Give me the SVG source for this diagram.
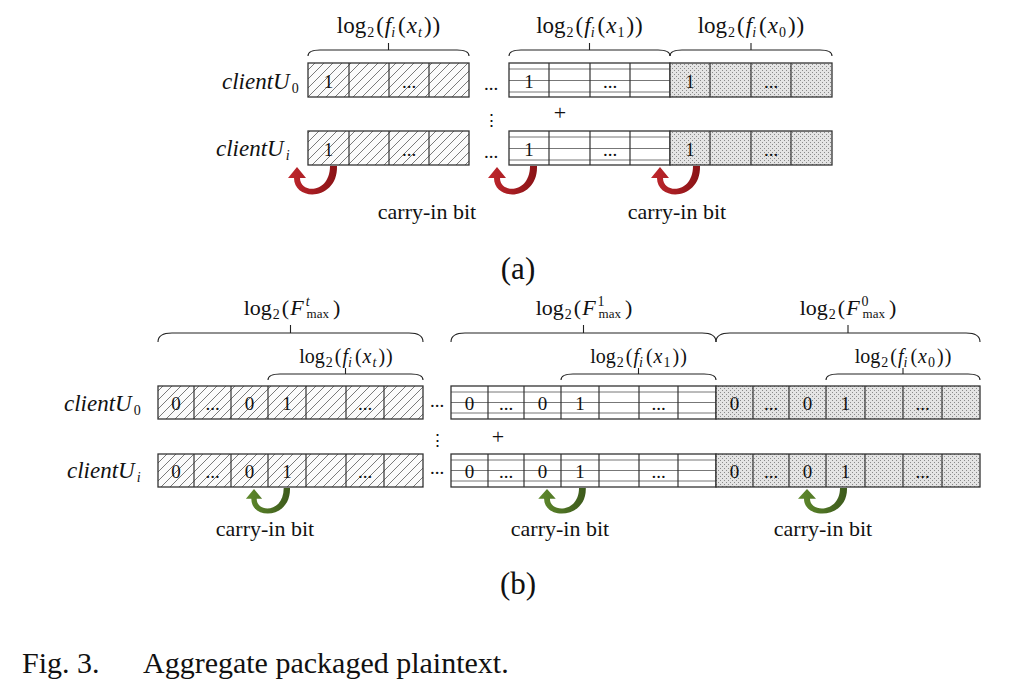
<svg xmlns="http://www.w3.org/2000/svg" xmlns:xlink="http://www.w3.org/1999/xlink" width="1024" height="690" viewBox="0 0 1024 690">
<style>
.t{font-family:"Liberation Serif","Times New Roman",serif;fill:#111}
.lbl{font-size:23px;text-anchor:middle}
.lbl2{font-size:22px;text-anchor:middle}
.lbl3{font-size:20px;text-anchor:middle}
.it{font-style:italic}
.sub{font-size:14px}
.sub2{font-size:13px}
.cell{font-size:19px;text-anchor:middle}
.cl{font-size:23px;font-style:italic}
.cap{font-size:30px}
.mid{text-anchor:middle}
.box{fill:none;stroke:#333;stroke-width:1.3}
.div{fill:none;stroke:#333;stroke-width:1.2}
.hl{fill:none;stroke:#777;stroke-width:1}
.brace{fill:none;stroke:#222;stroke-width:1.1}
</style>
<defs>
<pattern id="hatch" patternUnits="userSpaceOnUse" width="9" height="9">
<rect width="9" height="9" fill="#fbfbfb"/>
<path d="M0,9L9,0M-1,1L1,-1M8,10L10,8" stroke="#7a7a7a" stroke-width="1"/>
</pattern>
<pattern id="dots" patternUnits="userSpaceOnUse" width="4" height="4">
<rect width="4" height="4" fill="#e4e4e4"/>
<rect x="0" y="0" width="1" height="1" fill="#8a8a8a"/>
<rect x="2" y="2" width="1" height="1" fill="#8a8a8a"/>
</pattern>
<linearGradient id="red" x1="0" y1="0" x2="1" y2="0">
<stop offset="0" stop-color="#c0272d"/>
<stop offset="1" stop-color="#8a1316"/>
</linearGradient>
<linearGradient id="green" x1="0" y1="0" x2="1" y2="0">
<stop offset="0" stop-color="#5f8a2c"/>
<stop offset="1" stop-color="#3d5a1c"/>
</linearGradient>
<path id="arr" d="M40,0C41,35 -3,36 -3,12L-9,12L0,1L9,12L3,12C3,28 33,28 33,0Z"/>
</defs>
<rect width="1024" height="690" fill="#fff"/>

<!-- ===== (a) ===== -->
<g id="a-labels">
<text class="t lbl" x="388.5" y="33">log<tspan class="sub" dy="4" dx="1">2</tspan><tspan dy="-4" dx="2">(</tspan><tspan class="it" dx="1">f</tspan><tspan class="sub it" dy="4">i</tspan><tspan dy="-4" dx="3">(</tspan><tspan class="it" dx="1">x</tspan><tspan class="sub it" dy="4" dx="1">t</tspan><tspan dy="-4" dx="2">)</tspan><tspan dx="1">)</tspan></text>
<text class="t lbl" x="589.5" y="33">log<tspan class="sub" dy="4" dx="1">2</tspan><tspan dy="-4" dx="2">(</tspan><tspan class="it" dx="1">f</tspan><tspan class="sub it" dy="4">i</tspan><tspan dy="-4" dx="3">(</tspan><tspan class="it" dx="1">x</tspan><tspan class="sub" dy="4" dx="1">1</tspan><tspan dy="-4" dx="2">)</tspan><tspan dx="1">)</tspan></text>
<text class="t lbl" x="751" y="33">log<tspan class="sub" dy="4" dx="1">2</tspan><tspan dy="-4" dx="2">(</tspan><tspan class="it" dx="1">f</tspan><tspan class="sub it" dy="4">i</tspan><tspan dy="-4" dx="3">(</tspan><tspan class="it" dx="1">x</tspan><tspan class="sub" dy="4" dx="1">0</tspan><tspan dy="-4" dx="2">)</tspan><tspan dx="1">)</tspan></text>
<path class="brace" d="M308,56Q308,50 320,50L457,50Q469,50 469,56M388.5,50V43"/>
<path class="brace" d="M509,56Q509,50 521,50L658,50Q670,50 670,56M589.5,50V43"/>
<path class="brace" d="M670,56Q670,50 682,50L820,50Q832,50 832,56M751,50V43"/>
<text class="t cl" x="222" y="89">clientU<tspan class="sub" font-style="normal" dy="4" dx="2">0</tspan></text>
<text class="t cl" x="216" y="156">clientU<tspan class="sub" dy="4" dx="2">i</tspan></text>
<text class="t cell" x="491" y="90">...</text>
<text class="t cell" x="491" y="158">...</text>
<text class="t mid" x="491" y="126" font-family="DejaVu Sans" font-size="17">⋮</text>
<text class="t mid" x="560" y="120" font-size="22" fill="#000">+</text>
<text class="t" x="427" y="219" font-size="22" text-anchor="middle">carry-in bit</text>
<text class="t" x="677" y="219" font-size="22" text-anchor="middle">carry-in bit</text>
<text class="t" x="518" y="279" font-size="31" text-anchor="middle">(a)</text>
</g>

<g id="a-u0-xt">
<rect x="308" y="63" width="161" height="34" fill="url(#hatch)"/>
<path class="div" d="M349,63V97M389,63V97M429,63V97"/>
<rect class="box" x="308" y="63" width="161" height="34"/>
<text class="t cell" x="328.5" y="88">1</text><text class="t cell" x="409" y="88">...</text>
</g>
<g id="a-u0-x1">
<rect x="509" y="63" width="161" height="34" fill="#fff"/>
<path class="hl" d="M509,69H670M509,80.5H670M509,92H670"/>
<path class="div" d="M549,63V97M590,63V97M630,63V97"/>
<rect class="box" x="509" y="63" width="161" height="34"/>
<text class="t cell" x="529" y="88">1</text><text class="t cell" x="610" y="88">...</text>
</g>
<g id="a-u0-x0">
<rect x="670" y="63" width="162" height="34" fill="url(#dots)"/>
<path class="div" d="M710,63V97M751,63V97M791,63V97"/>
<rect class="box" x="670" y="63" width="162" height="34"/>
<text class="t cell" x="690" y="88">1</text><text class="t cell" x="771" y="88">...</text>
</g>
<g id="a-ui-xt">
<rect x="308" y="131" width="161" height="34" fill="url(#hatch)"/>
<path class="div" d="M349,131V165M389,131V165M429,131V165"/>
<rect class="box" x="308" y="131" width="161" height="34"/>
<text class="t cell" x="328.5" y="156">1</text><text class="t cell" x="409" y="156">...</text>
</g>
<g id="a-ui-x1">
<rect x="509" y="131" width="161" height="34" fill="#fff"/>
<path class="hl" d="M509,137H670M509,148.5H670M509,160H670"/>
<path class="div" d="M549,131V165M590,131V165M630,131V165"/>
<rect class="box" x="509" y="131" width="161" height="34"/>
<text class="t cell" x="529" y="156">1</text><text class="t cell" x="610" y="156">...</text>
</g>
<g id="a-ui-x0">
<rect x="670" y="131" width="162" height="34" fill="url(#dots)"/>
<path class="div" d="M710,131V165M751,131V165M791,131V165"/>
<rect class="box" x="670" y="131" width="162" height="34"/>
<text class="t cell" x="690" y="156">1</text><text class="t cell" x="771" y="156">...</text>
</g>

<!-- ===== (b) ===== -->
<g id="b-labels">
<text class="t lbl2" x="292" y="315">log<tspan class="sub" dy="4" dx="1">2</tspan><tspan dy="-4" dx="2">(</tspan><tspan class="it" dx="1">F</tspan><tspan class="sub it" dy="-9" dx="2">t</tspan><tspan class="sub2" dx="-3" dy="12">max</tspan><tspan dy="-3" dx="4">)</tspan></text>
<text class="t lbl2" x="584" y="315">log<tspan class="sub" dy="4" dx="1">2</tspan><tspan dy="-4" dx="2">(</tspan><tspan class="it" dx="1">F</tspan><tspan class="sub" dy="-9" dx="2">1</tspan><tspan class="sub2" dx="-6" dy="12">max</tspan><tspan dy="-3" dx="4">)</tspan></text>
<text class="t lbl2" x="848" y="315">log<tspan class="sub" dy="4" dx="1">2</tspan><tspan dy="-4" dx="2">(</tspan><tspan class="it" dx="1">F</tspan><tspan class="sub" dy="-9" dx="2">0</tspan><tspan class="sub2" dx="-6" dy="12">max</tspan><tspan dy="-3" dx="4">)</tspan></text>
<path class="brace" d="M158,342Q158,333 172,333L409,333Q423,333 423,342M290.5,333V325"/>
<path class="brace" d="M451,342Q451,333 465,333L702,333Q716,333 716,342M583.5,333V325"/>
<path class="brace" d="M716,342Q716,333 730,333L966,333Q980,333 980,342M848,333V325"/>
<text class="t lbl3" x="346" y="363">log<tspan class="sub" dy="4" dx="1">2</tspan><tspan dy="-4" dx="2">(</tspan><tspan class="it" dx="1">f</tspan><tspan class="sub it" dy="4">i</tspan><tspan dy="-4" dx="3">(</tspan><tspan class="it" dx="1">x</tspan><tspan class="sub it" dy="4" dx="1">t</tspan><tspan dy="-4" dx="2">)</tspan><tspan dx="1">)</tspan></text>
<text class="t lbl3" x="638.5" y="363">log<tspan class="sub" dy="4" dx="1">2</tspan><tspan dy="-4" dx="2">(</tspan><tspan class="it" dx="1">f</tspan><tspan class="sub it" dy="4">i</tspan><tspan dy="-4" dx="3">(</tspan><tspan class="it" dx="1">x</tspan><tspan class="sub" dy="4" dx="1">1</tspan><tspan dy="-4" dx="2">)</tspan><tspan dx="1">)</tspan></text>
<text class="t lbl3" x="903" y="363">log<tspan class="sub" dy="4" dx="1">2</tspan><tspan dy="-4" dx="2">(</tspan><tspan class="it" dx="1">f</tspan><tspan class="sub it" dy="4">i</tspan><tspan dy="-4" dx="3">(</tspan><tspan class="it" dx="1">x</tspan><tspan class="sub" dy="4" dx="1">0</tspan><tspan dy="-4" dx="2">)</tspan><tspan dx="1">)</tspan></text>
<path class="brace" d="M268,380Q268,374 280,374L411,374Q423,374 423,380M345.5,374V368"/>
<path class="brace" d="M561,380Q561,374 573,374L704,374Q716,374 716,380M638.5,374V368"/>
<path class="brace" d="M826,380Q826,374 838,374L968,374Q980,374 980,380M903,374V368"/>
<text class="t cl" x="64" y="411">clientU<tspan class="sub" font-style="normal" dy="4" dx="2">0</tspan></text>
<text class="t cl" x="67" y="478">clientU<tspan class="sub" dy="4" dx="2">i</tspan></text>
<text class="t cell" x="437" y="407">...</text>
<text class="t cell" x="437" y="474">...</text>
<text class="t mid" x="437" y="446" font-family="DejaVu Sans" font-size="17">⋮</text>
<text class="t mid" x="498" y="444" font-size="22" fill="#000">+</text>
<text class="t" x="265" y="536" font-size="22" text-anchor="middle">carry-in bit</text>
<text class="t" x="560" y="536" font-size="22" text-anchor="middle">carry-in bit</text>
<text class="t" x="823" y="536" font-size="22" text-anchor="middle">carry-in bit</text>
<text class="t" x="518" y="594" font-size="31" text-anchor="middle">(b)</text>
</g>

<g id="b-u0-xt">
<rect x="158" y="386" width="265" height="33" fill="url(#hatch)"/>
<path class="div" d="M194,386V419M231,386V419M268,386V419M306,386V419M346,386V419M384,386V419"/>
<rect class="box" x="158" y="386" width="265" height="33"/>
<text class="t cell" x="176" y="410">0</text><text class="t cell" x="212.5" y="410">...</text><text class="t cell" x="249.5" y="410">0</text><text class="t cell" x="287" y="410">1</text><text class="t cell" x="365" y="410">...</text>
</g>
<g id="b-u0-x1">
<rect x="451" y="386" width="265" height="33" fill="#fff"/>
<path class="hl" d="M451,392H716M451,402.5H716M451,413H716"/>
<path class="div" d="M488,386V419M524,386V419M561,386V419M599,386V419M639,386V419M678,386V419"/>
<rect class="box" x="451" y="386" width="265" height="33"/>
<text class="t cell" x="469.5" y="410">0</text><text class="t cell" x="506" y="410">...</text><text class="t cell" x="542.5" y="410">0</text><text class="t cell" x="580" y="410">1</text><text class="t cell" x="658.5" y="410">...</text>
</g>
<g id="b-u0-x0">
<rect x="716" y="386" width="264" height="33" fill="url(#dots)"/>
<path class="div" d="M753,386V419M789,386V419M826,386V419M865,386V419M903,386V419M942,386V419"/>
<rect class="box" x="716" y="386" width="264" height="33"/>
<text class="t cell" x="734.5" y="410">0</text><text class="t cell" x="771" y="410">...</text><text class="t cell" x="807.5" y="410">0</text><text class="t cell" x="845.5" y="410">1</text><text class="t cell" x="922.5" y="410">...</text>
</g>
<g id="b-ui-xt">
<rect x="158" y="454" width="265" height="33" fill="url(#hatch)"/>
<path class="div" d="M194,454V487M231,454V487M268,454V487M306,454V487M346,454V487M384,454V487"/>
<rect class="box" x="158" y="454" width="265" height="33"/>
<text class="t cell" x="176" y="478">0</text><text class="t cell" x="212.5" y="478">...</text><text class="t cell" x="249.5" y="478">0</text><text class="t cell" x="287" y="478">1</text><text class="t cell" x="365" y="478">...</text>
</g>
<g id="b-ui-x1">
<rect x="451" y="454" width="265" height="33" fill="#fff"/>
<path class="hl" d="M451,460H716M451,470.5H716M451,481H716"/>
<path class="div" d="M488,454V487M524,454V487M561,454V487M599,454V487M639,454V487M678,454V487"/>
<rect class="box" x="451" y="454" width="265" height="33"/>
<text class="t cell" x="469.5" y="478">0</text><text class="t cell" x="506" y="478">...</text><text class="t cell" x="542.5" y="478">0</text><text class="t cell" x="580" y="478">1</text><text class="t cell" x="658.5" y="478">...</text>
</g>
<g id="b-ui-x0">
<rect x="716" y="454" width="264" height="33" fill="url(#dots)"/>
<path class="div" d="M753,454V487M789,454V487M826,454V487M865,454V487M903,454V487M942,454V487"/>
<rect class="box" x="716" y="454" width="264" height="33"/>
<text class="t cell" x="734.5" y="478">0</text><text class="t cell" x="771" y="478">...</text><text class="t cell" x="807.5" y="478">0</text><text class="t cell" x="845.5" y="478">1</text><text class="t cell" x="922.5" y="478">...</text>
</g>

<g id="connectors">
<use xlink:href="#arr" transform="translate(297,166)" fill="url(#red)"/>
<use xlink:href="#arr" transform="translate(497,166)" fill="url(#red)"/>
<use xlink:href="#arr" transform="translate(660,166)" fill="url(#red)"/>
<use xlink:href="#arr" transform="translate(254,488) scale(0.9,0.9)" fill="url(#green)"/>
<use xlink:href="#arr" transform="translate(547,488) scale(0.97,0.9)" fill="url(#green)"/>
<use xlink:href="#arr" transform="translate(807,488) scale(1,0.9)" fill="url(#green)"/>
</g>

<text class="t cap" x="22" y="673">Fig. 3.<tspan x="143">Aggregate packaged plaintext.</tspan></text>
</svg>
